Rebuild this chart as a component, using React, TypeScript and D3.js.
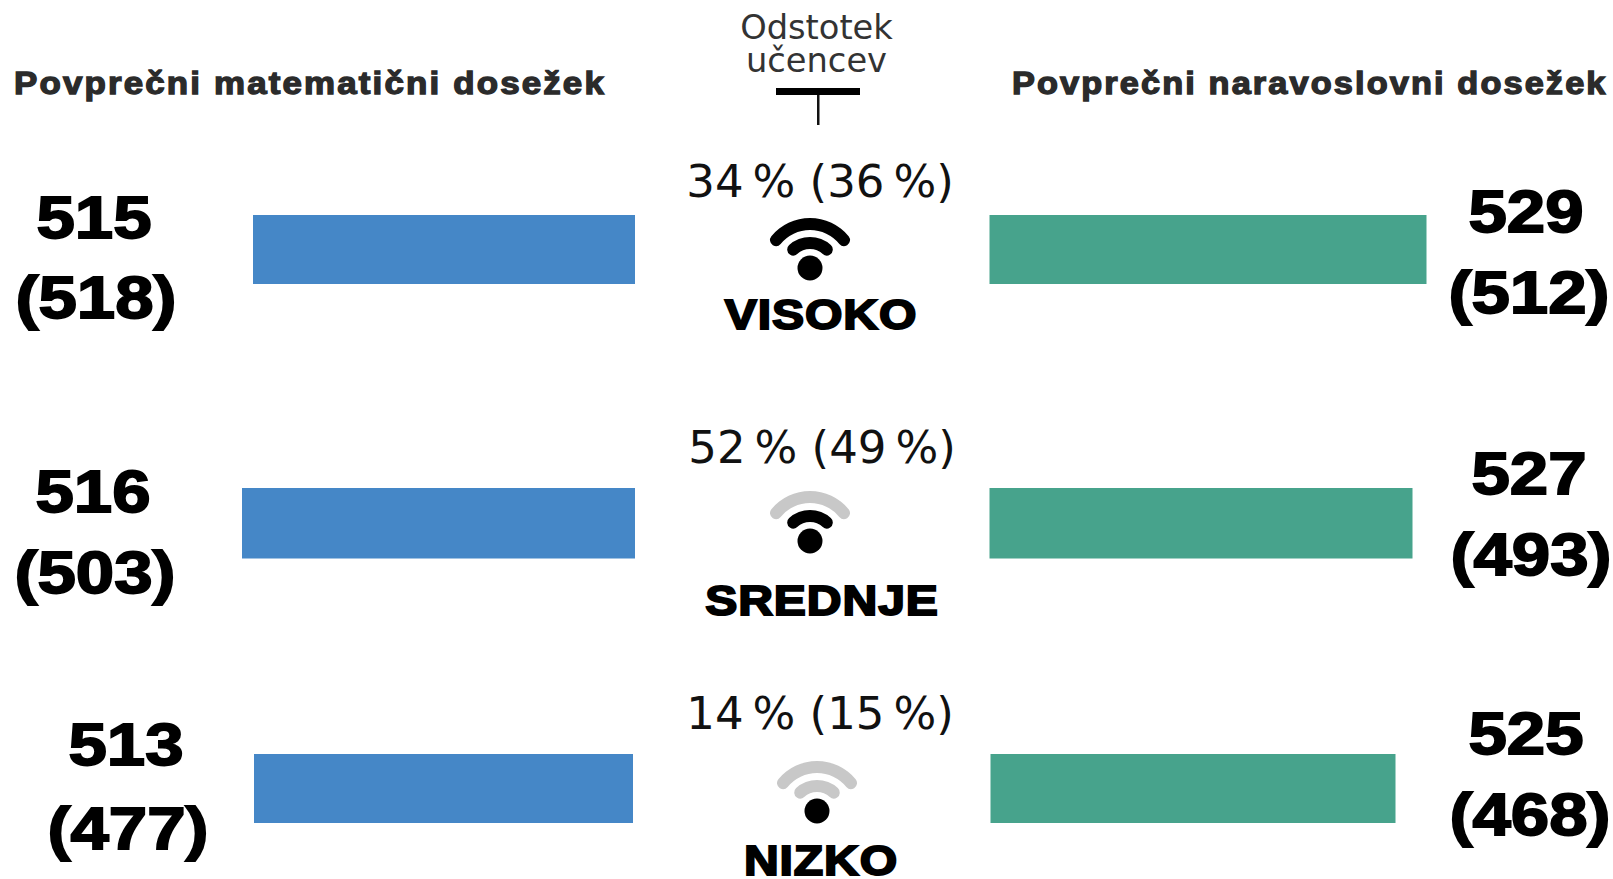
import React from "react";
import * as d3 from "d3";

const levels = ["VISOKO", "SREDNJE", "NIZKO"];
const shares = ["34\u2009% (36\u2009%)", "52\u2009% (49\u2009%)", "14\u2009% (15\u2009%)"];
const mathValues = [515, 516, 513];
const mathPrev = [518, 503, 477];
const sciValues = [529, 527, 525];
const sciPrev = [512, 493, 468];
const litArcs = [2, 1, 0];

const mathWidth = d3.scaleLinear().domain([513, 515, 516]).range([379, 382, 393]);
const sciWidth = d3.scaleLinear().domain([525, 527, 529]).range([405, 423, 437]);
const rowY = d3.scaleOrdinal<string, number>().domain(levels).range([215, 488, 754]);
const mathRight = [635, 635, 633];
const sciLeft = [989.5, 989.5, 990.5];
const barH = [69, 70.5, 69];

const mathNum = [[94, 238, 96, 318], [93, 512, 95, 593], [126, 765, 128, 849]];
const sciNum = [[1526, 232, 1529, 313], [1529, 494, 1531, 575], [1526, 754, 1530, 835]];
const shareBase = [197, 463, 729];
const shareX = [820, 822, 820];
const iconC = [[810, 268], [810, 541], [817, 811]];
const labelBase = [329, 615, 875];
const labelX = [821, 822, 821];

const outerArc = d3.arc().innerRadius(38).outerRadius(50).startAngle(-1.02).endAngle(1.02).cornerRadius(6);
const innerArc = d3.arc().innerRadius(19).outerRadius(31).startAngle(-0.98).endAngle(0.98).cornerRadius(6);

const heavy: React.CSSProperties = { fontFamily: "'Liberation Sans', Arial, sans-serif", fontWeight: 700 };
const deja = "'DejaVu Sans', sans-serif";

function Heading({ x, sx, text }: { x: number; sx: number; text: string }) {
  return (
    <text transform={`translate(${x},94) scale(${sx},1)`} style={{ ...heavy, letterSpacing: "1.9px" }} fontSize={31} fill="#2b2b2b" stroke="#2b2b2b" strokeWidth={1.3}>
      {text}
    </text>
  );
}

function Num({ x, y, t }: { x: number; y: number; t: string }) {
  return (
    <text transform={`translate(${x},${y}) scale(1.15,1)`} textAnchor="middle" style={heavy} fontSize={60} fill="#000" stroke="#000" strokeWidth={1.8}>
      {t}
    </text>
  );
}

export default function App() {
  return (
    <svg width={1613} height={879} style={{ position: "absolute", left: 0, top: 0, background: "#fff" }}>
      <Heading x={14} sx={1.127} text="Povprečni matematični dosežek" />
      <Heading x={1012} sx={1.108} text="Povprečni naravoslovni dosežek" />
      <text x={816.5} y={39} textAnchor="middle" fontFamily={deja} fontSize={33.7} fill="#333">Odstotek</text>
      <text x={816.5} y={72} textAnchor="middle" fontFamily={deja} fontSize={33.7} fill="#333">učencev</text>
      <rect x={776} y={88} width={84} height={7} fill="#000" />
      <rect x={817} y={95} width={2.5} height={30} fill="#111" />
      {levels.map((lv, i) => {
        const y = rowY(lv);
        const mw = mathWidth(mathValues[i]);
        const sw = sciWidth(sciValues[i]);
        const [cx, cy] = iconC[i];
        const lit = litArcs[i];
        return (
          <g key={lv}>
            <rect x={mathRight[i] - mw} y={y} width={mw} height={barH[i]} fill="#4587c7" />
            <rect x={sciLeft[i]} y={y} width={sw} height={barH[i]} fill="#47a38c" />
            <Num x={mathNum[i][0]} y={mathNum[i][1]} t={String(mathValues[i])} />
            <Num x={mathNum[i][2]} y={mathNum[i][3]} t={`(${mathPrev[i]})`} />
            <Num x={sciNum[i][0]} y={sciNum[i][1]} t={String(sciValues[i])} />
            <Num x={sciNum[i][2]} y={sciNum[i][3]} t={`(${sciPrev[i]})`} />
            <text x={shareX[i]} y={shareBase[i]} textAnchor="middle" fontFamily={deja} fontSize={45} fill="#111">{shares[i]}</text>
            <g transform={`translate(${cx},${cy})`}>
              <path d={(outerArc as any)()} fill={lit >= 2 ? "#000" : "#c8c8c8"} />
              <path d={(innerArc as any)()} fill={lit >= 1 ? "#000" : "#c8c8c8"} />
              <circle r={12.5} fill="#000" />
            </g>
            <text transform={`translate(${labelX[i]},${labelBase[i]}) scale(1.12,1)`} textAnchor="middle" style={{ ...heavy, letterSpacing: "0.8px" }} fontSize={43} fill="#000" stroke="#000" strokeWidth={2}>{lv}</text>
          </g>
        );
      })}
    </svg>
  );
}
